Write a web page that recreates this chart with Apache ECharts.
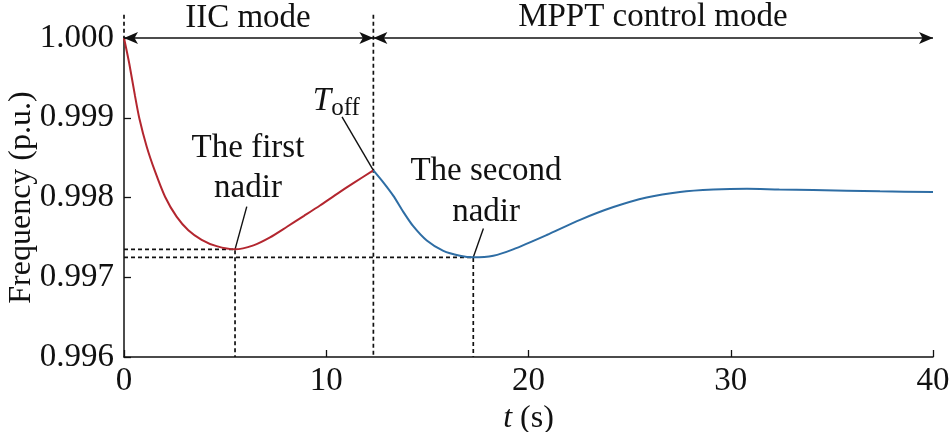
<!DOCTYPE html>
<html>
<head>
<meta charset="utf-8">
<script src="https://cdn.jsdelivr.net/npm/echarts@6/dist/echarts.min.js"></script>
<style>
html,body{margin:0;padding:0;background:#fff;}
#chart{width:950px;height:432px;}
</style>
</head>
<body>
<div id="chart"></div>
<script>
// ---- data ----
const tRed = [0, 0.26, 0.54, 0.76, 1.12, 1.53, 2.03, 2.6, 3.18, 3.84, 4.58, 5.49, 6.4, 7.22, 8.04, 8.9, 9.69, 10.5, 11.34, 12.33];
const fRed = [1.0, 0.99968, 0.99928, 0.99899, 0.99864, 0.99833, 0.99801, 0.99776, 0.99759, 0.99747, 0.99739, 0.99735, 0.99740, 0.99750, 0.99763, 0.99777, 0.99790, 0.99804, 0.99818, 0.99834];
const tBlue = [12.33, 12.82, 13.32, 13.81, 14.3, 14.97, 15.79, 16.61, 17.27, 18.26, 19.24, 20.9, 22.55, 24.2, 25.84, 27.49, 29.14, 30.8, 32.4, 34.08, 37.38, 40];
const fBlue = [0.99834, 0.99819, 0.99802, 0.99782, 0.99764, 0.99746, 0.99733, 0.99727, 0.99725, 0.99727, 0.99735, 0.99753, 0.99772, 0.99788, 0.99800, 0.99807, 0.99810, 0.99811, 0.99810, 0.998094, 0.998077, 0.99807];
const firstNadir = [5.49, 0.99735];
const secondNadir = [17.27, 0.99725];
const tOff = [12.33, 0.99834];
const xTicks = [0, 10, 20, 30, 40];
const yTicks = [0.996, 0.997, 0.998, 0.999, 1.000];
const modeLabels = ['IIC mode', 'MPPT control mode'];

const FONT = 'Liberation Serif';
const zip = (a, b) => a.map((v, i) => [v, b[i]]);
const xMin = xTicks[0], xMax = xTicks[xTicks.length - 1];
const yMin = yTicks[0], yMax = yTicks[yTicks.length - 1];
const yTop = yMax + 0.00029;

const dashed = {color: '#111', width: 1.7, type: [4, 3]};
const solid = {color: '#111', width: 1.4};
function helper(data, style) {
  return {type: 'line', data: data, showSymbol: false, symbol: 'none', clip: false,
          lineStyle: style, silent: true, z: 1, animation: false};
}

const chart = echarts.init(document.getElementById('chart'), null, {renderer: 'canvas'});
chart.setOption({
  backgroundColor: '#fff',
  animation: false,
  textStyle: {fontFamily: FONT},
  grid: {left: 124, right: 17, top: 38, bottom: 75, containLabel: false, outerBoundsMode: 'none'},
  xAxis: {
    type: 'value', min: xMin, max: xMax, interval: 10,
    axisLine: {lineStyle: {color: '#111', width: 1.5}},
    axisTick: {inside: true, length: 7, lineStyle: {color: '#111', width: 1.3}},
    axisLabel: {color: '#111', fontFamily: FONT, fontSize: 33, margin: 8},
    splitLine: {show: false},
    name: '{i|t} (s)', nameLocation: 'middle', nameGap: 46, nameMoveOverlap: false,
    nameTextStyle: {color: '#111', fontFamily: FONT, fontSize: 32,
      rich: {i: {fontStyle: 'italic', fontFamily: FONT, fontSize: 32, color: '#111'}}}
  },
  yAxis: {
    type: 'value', min: yMin, max: yMax, interval: 0.001,
    axisLine: {lineStyle: {color: '#111', width: 1.5}},
    axisTick: {inside: true, length: 7, lineStyle: {color: '#111', width: 1.3}},
    axisLabel: {color: '#111', fontFamily: FONT, fontSize: 33, margin: 10,
      formatter: v => v.toFixed(3)},
    splitLine: {show: false},
    name: 'Frequency (p.u.)', nameLocation: 'middle', nameGap: 86, nameMoveOverlap: false,
    nameTextStyle: {color: '#111', fontFamily: FONT, fontSize: 32}
  },
  series: [
    helper([[xMin, yTop], [xMin, yMax]], dashed),
    helper([[tOff[0], yTop], [tOff[0], yMin]], dashed),
    helper([[xMin, firstNadir[1]], firstNadir, [firstNadir[0], yMin]], dashed),
    helper([[xMin, secondNadir[1]], secondNadir, [secondNadir[0], yMin]], dashed),
    {
      type: 'line', data: zip(tRed, fRed), smooth: 0.25, showSymbol: false, symbol: 'none',
      lineStyle: {color: '#b3262f', width: 2}, z: 3, clip: false
    },
    {
      type: 'line', data: zip(tBlue, fBlue), smooth: 0.25, showSymbol: false, symbol: 'none',
      lineStyle: {color: '#2e6da4', width: 2}, z: 3, clip: false,
      markLine: {
        silent: true, symbol: ['arrow', 'arrow'], symbolSize: [9, 14], animation: false,
        label: {show: false},
        lineStyle: {color: '#111', width: 1.5, type: 'solid'},
        data: [
          [{coord: [xMin, yMax]}, {coord: [tOff[0], yMax]}],
          [{coord: [tOff[0], yMax]}, {coord: [xMax, yMax]}]
        ]
      }
    },
    // leader lines
    helper([[6.07, 0.997885], firstNadir], solid),
    helper([[17.77, 0.99761], secondNadir], solid),
    helper([[10.78, 0.99901], tOff], solid)
  ]
});

// annotation text placed in data coordinates
const notes = [
  {text: modeLabels[0], at: [6.13, 1.00025]},
  {text: modeLabels[1], at: [26.15, 1.00026]},
  {text: 'The first', at: [6.13, 0.99862]},
  {text: 'nadir', at: [6.13, 0.99811]},
  {text: 'The second', at: [17.9, 0.99833]},
  {text: 'nadir', at: [17.9, 0.99781]},
  {text: '{it|T}{sub|off}', at: [10.5, 0.99920], rich: true}
];
const graphics = notes.map(n => {
  const p = chart.convertToPixel({gridIndex: 0}, n.at);
  const style = {text: n.text, x: p[0], y: p[1], fill: '#111', fontSize: 33, fontFamily: FONT,
                 align: 'center', verticalAlign: 'middle'};
  if (n.rich) {
    style.rich = {
      it: {fontStyle: 'italic', fontSize: 33, fontFamily: FONT, fill: '#111'},
      sub: {fontSize: 25, fontFamily: FONT, fill: '#111', padding: [14, 0, 0, 0]}
    };
  }
  return {type: 'text', style: style, z: 10, silent: true};
});
chart.setOption({graphic: graphics});
</script>
</body>
</html>
